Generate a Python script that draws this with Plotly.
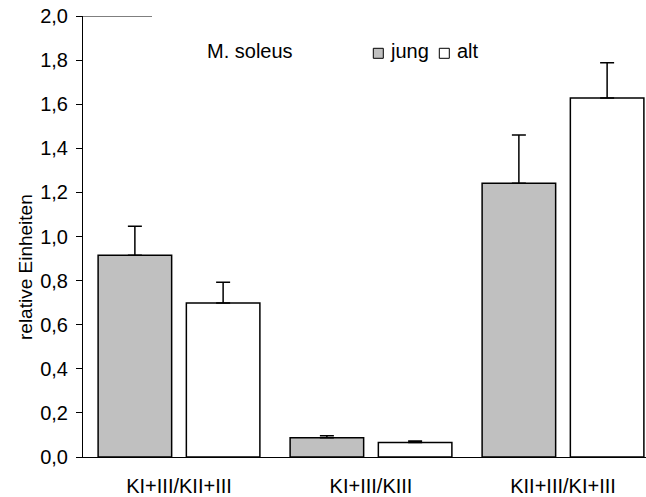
import plotly.graph_objects as go

# Ratios of respiratory chain complexes, M. soleus, young vs. old
categories = ["KI+III/KII+III", "KI+III/KIII", "KII+III/KI+III"]
jung_mean = [0.915, 0.087, 1.242]
jung_err = [0.132, 0.009, 0.218]
alt_mean = [0.698, 0.066, 1.628]
alt_err = [0.094, 0.006, 0.160]

y_tickvals = [0.0, 0.2, 0.4, 0.6, 0.8, 1.0, 1.2, 1.4, 1.6, 1.8, 2.0]
y_ticktext = ["0,0", "0,2", "0,4", "0,6", "0,8", "1,0", "1,2", "1,4", "1,6", "1,8", "2,0"]

W, H = 646, 497
ML, MR, MT, MB = 83, 0, 16, 40
PW, PH = W - ML - MR, H - MT - MB

FONT = "Liberation Sans, Arial, sans-serif"
GRAY = "#c0c0c0"

xpos = list(range(len(categories)))
bar_w = 0.383
gap = 0.0766
left = -(2 * bar_w + gap) / 2

fig = go.Figure()
fig.add_trace(go.Bar(
    x=xpos, y=jung_mean, name="jung",
    width=bar_w, offset=left,
    marker=dict(color=GRAY, line=dict(color="black", width=1.5)),
    error_y=dict(type="data", array=jung_err, arrayminus=[0] * len(jung_err),
                 symmetric=False, color="black", thickness=1.5, width=7),
    showlegend=False,
))
fig.add_trace(go.Bar(
    x=xpos, y=alt_mean, name="alt",
    width=bar_w, offset=left + bar_w + gap,
    marker=dict(color="white", line=dict(color="black", width=1.5)),
    error_y=dict(type="data", array=alt_err, arrayminus=[0] * len(alt_err),
                 symmetric=False, color="black", thickness=1.5, width=7),
    showlegend=False,
))


def px_x(px):
    return (px - ML) / PW


def px_y(py):
    return (H - MB - py) / PH


# Legend: filled squares with labels, plus the series title
shapes = [
    dict(type="rect", xref="paper", yref="paper",
         x0=px_x(373.3), x1=px_x(383.3), y0=px_y(58.3), y1=px_y(48.3),
         fillcolor=GRAY, line=dict(color="black", width=1)),
    dict(type="rect", xref="paper", yref="paper",
         x0=px_x(439.3), x1=px_x(449.3), y0=px_y(58.3), y1=px_y(48.3),
         fillcolor="white", line=dict(color="black", width=1)),
    # short line at the top of the value axis
    dict(type="line", xref="paper", yref="y",
         x0=0, x1=px_x(152), y0=2.0, y1=2.0,
         line=dict(color="black", width=1)),
]

annotations = [
    dict(text="M. soleus", xref="paper", yref="paper",
         x=px_x(205), y=px_y(51), xanchor="left", yanchor="middle",
         showarrow=False, font=dict(family=FONT, size=20, color="black")),
    dict(text="jung", xref="paper", yref="paper",
         x=px_x(388), y=px_y(51), xanchor="left", yanchor="middle",
         showarrow=False, font=dict(family=FONT, size=20, color="black")),
    dict(text="alt", xref="paper", yref="paper",
         x=px_x(455), y=px_y(51), xanchor="left", yanchor="middle",
         showarrow=False, font=dict(family=FONT, size=20, color="black")),
    dict(text="relative Einheiten", xref="paper", yref="paper",
         x=px_x(25), y=px_y(267), xanchor="center", yanchor="middle",
         textangle=-90, showarrow=False,
         font=dict(family=FONT, size=19, color="black")),
]

fig.update_layout(
    width=W, height=H,
    margin=dict(l=ML, r=MR, t=MT, b=MB, pad=0),
    paper_bgcolor="white", plot_bgcolor="white",
    font=dict(family=FONT, size=20, color="black"),
    barmode="overlay",
    shapes=shapes,
    annotations=annotations,
    xaxis=dict(
        tickvals=xpos, ticktext=categories,
        range=[-0.5, -0.5 + PW / 192.0],
        showline=True, linecolor="black", linewidth=1,
        ticks="", showgrid=False, zeroline=False,
        ticklabelstandoff=11,
        tickfont=dict(family=FONT, size=20),
    ),
    yaxis=dict(
        range=[0, 2.0],
        tickvals=y_tickvals, ticktext=y_ticktext,
        showline=True, linecolor="black", linewidth=1,
        ticks="outside", ticklen=6, tickcolor="black", tickwidth=1,
        showgrid=False, zeroline=False,
        ticklabelstandoff=4,
        tickfont=dict(family=FONT, size=20),
    ),
)

fig.write_html("out.html")
